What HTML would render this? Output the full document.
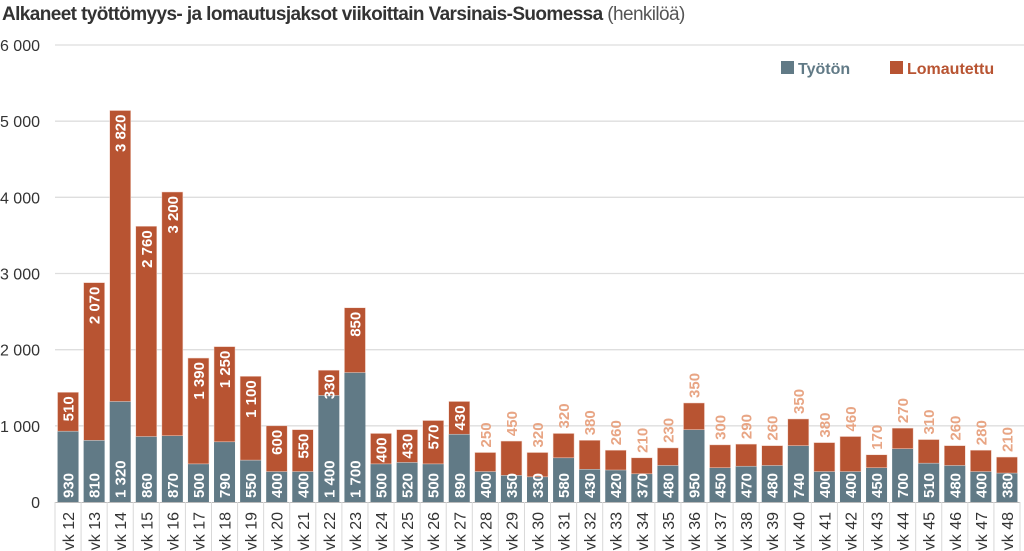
<!DOCTYPE html>
<html><head><meta charset="utf-8"><style>
body{margin:0;background:#fff;width:1024px;height:551px;overflow:hidden;font-family:"Liberation Sans",sans-serif}
svg{display:block}
</style></head><body>
<svg id="c" width="1024" height="551">
<text x="2" y="20" font-size="19" font-weight="bold" fill="#333" letter-spacing="-0.6">Alkaneet työttömyys- ja lomautusjaksot viikoittain Varsinais-Suomessa <tspan font-weight="normal" fill="#555">(henkilöä)</tspan></text>
<g>
<rect x="781" y="61" width="13" height="13" fill="#617a86"/>
<text x="798" y="74" font-size="16" font-weight="bold" fill="#617a86">Työtön</text>
<rect x="890" y="61" width="13" height="13" fill="#b85432"/>
<text x="907" y="74" font-size="16" font-weight="bold" fill="#b85432">Lomautettu</text>
</g>
<g id="grid"></g><g id="bars"></g><g id="cats"></g>
</svg>
<script>
const weeks=["vk 12","vk 13","vk 14","vk 15","vk 16","vk 17","vk 18","vk 19","vk 20","vk 21","vk 22","vk 23","vk 24","vk 25","vk 26","vk 27","vk 28","vk 29","vk 30","vk 31","vk 32","vk 33","vk 34","vk 35","vk 36","vk 37","vk 38","vk 39","vk 40","vk 41","vk 42","vk 43","vk 44","vk 45","vk 46","vk 47","vk 48"];
const tyoton=[930,810,1320,860,870,500,790,550,400,400,1400,1700,500,520,500,890,400,350,330,580,430,420,370,480,950,450,470,480,740,400,400,450,700,510,480,400,380];
const lomautettu=[510,2070,3820,2760,3200,1390,1250,1100,600,550,330,850,400,430,570,430,250,450,320,320,380,260,210,230,350,300,290,260,350,380,460,170,270,310,260,280,210];
const yTicks=[0,1000,2000,3000,4000,5000,6000];
const NS="http://www.w3.org/2000/svg";
const x0=55,x1=1020,y0=502,yTop=45,yMax=6000;
const slot=(x1-x0)/weeks.length, bw=21;
const y=v=>y0-(v/yMax)*(y0-yTop);
const xs=i=>x0+i*slot;
const fmt=v=>{const s=String(v);return s.length>3?s.slice(0,-3)+" "+s.slice(-3):s;};
function mk(tag,attrs,parent){const e=document.createElementNS(NS,tag);for(const k in attrs)e.setAttribute(k,attrs[k]);parent.appendChild(e);return e;}
const grid=document.getElementById('grid'),bars=document.getElementById('bars'),cats=document.getElementById('cats');
yTicks.forEach(t=>{
 if(t>0){const l=mk('line',{x1:x0,x2:x1+4,y1:y(t),y2:y(t),stroke:'#dedede','stroke-width':1.3},grid);
 
 }
 const tx=mk('text',{x:40,y:y(t)+6,'font-size':16,'text-anchor':'end',fill:'#333'},grid);
 tx.textContent=fmt(t);
 
 
});
const ax=mk('line',{x1:x0,x2:x1,y1:y0+0.5,y2:y0+0.5,stroke:'#bbb'},grid);


weeks.forEach((w,i)=>{
 const cx=xs(i)+slot/2,bx=cx-bw/2;
 const a=tyoton[i],b=lomautettu[i];
 const r1=mk('rect',{x:bx,y:y(a),width:bw,height:y0-y(a),fill:'#617a86'},bars);
 
 
 const r2=mk('rect',{x:bx,y:y(a+b),width:bw,height:y(a)-y(a+b),fill:'#b85432',stroke:'#f3d6cc','stroke-width':0.5},bars);
 
 
 const t1=mk('text',{transform:`translate(${cx+5.5},${y0-4}) rotate(-90)`,'font-size':15,'font-weight':'bold',fill:'#fff'},bars);
 t1.textContent=fmt(a);
 
 
 const inside=i<16;
 const t2=mk('text',{transform:inside?`translate(${cx+5.5},${y(a+b)+4}) rotate(-90)`:`translate(${cx+5.5},${y(a+b)-5}) rotate(-90)`,'font-size':15,'font-weight':'bold',fill:inside?'#fff':'#e8a584','text-anchor':inside?'end':'start'},bars);
 t2.textContent=fmt(b);
 
 
 const sep=mk('line',{x1:xs(i),x2:xs(i),y1:y0,y2:551,stroke:'#d8d8d8'},cats);
 
 
 const ct=mk('text',{transform:`translate(${cx+6},${512}) rotate(-90)`,'font-size':16,fill:'#333','text-anchor':'end'},cats);
 ct.textContent=w;
 
 
});
const last=mk('line',{x1:x1,x2:x1,y1:y0,y2:551,stroke:'#d8d8d8'},cats);


</script>
</body></html>
